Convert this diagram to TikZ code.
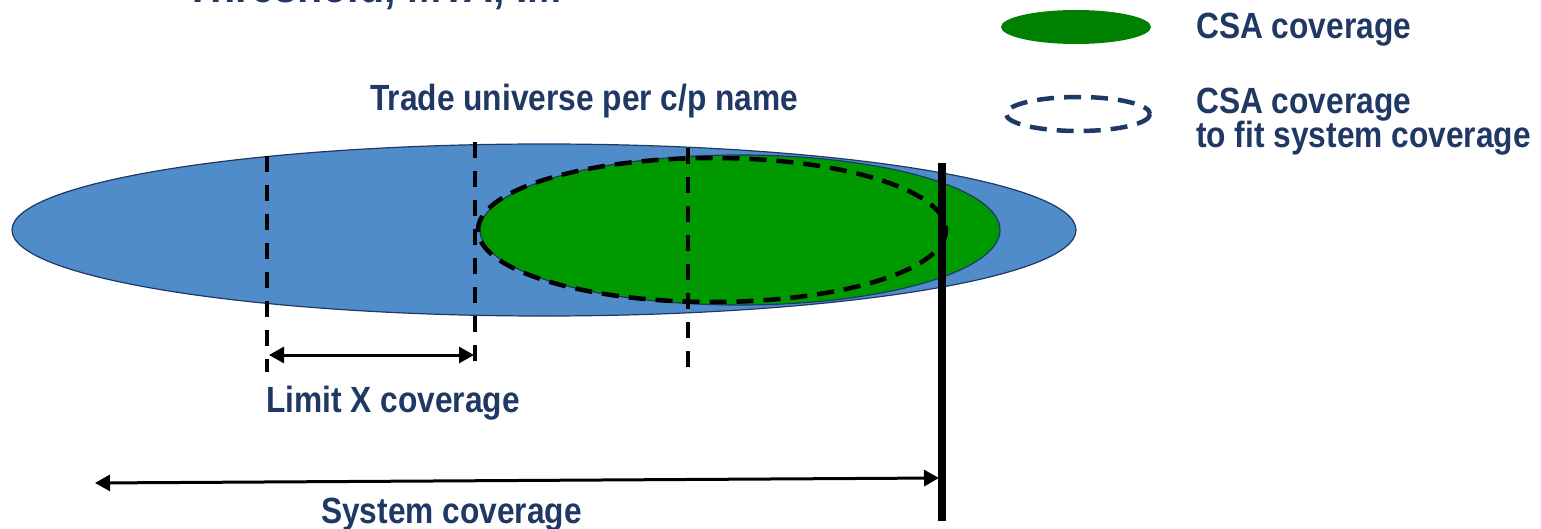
\documentclass[tikz,border=0pt]{standalone}
\usepackage{fontspec}
\setmainfont{Liberation Sans}
\usetikzlibrary{arrows.meta}
\definecolor{navy}{RGB}{31,56,100}
\definecolor{bluefill}{RGB}{80,140,201}
\definecolor{csagreen}{RGB}{0,153,0}
\definecolor{leggreen}{RGB}{0,128,0}
\newcommand{\stretchtxt}[1]{\scalebox{1}[1.15]{#1}}
\tikzset{
  lbl/.style={inner sep=0pt, anchor=base west, text=navy, font=\fontsize{31.7}{36}\selectfont\bfseries},
  title/.style={inner sep=0pt, anchor=base west, text=navy, font=\fontsize{41.2}{46}\selectfont\bfseries},
  vdash/.style={draw=black, line width=4pt, dash pattern=on 16pt off 13pt},
  dashell/.style={line width=4.5pt, dash pattern=on 17pt off 10pt},
  dimarrow/.style={draw=black, line width=3pt, {Triangle[length=15pt,width=16pt]}-{Triangle[length=15pt,width=16pt]}},
  shapeline/.style={draw=navy, line width=1.2pt}
}
\begin{document}
\begin{tikzpicture}[x=1pt,y=-1pt]
\useasboundingbox (0,0) rectangle (1541,529);
% clipped title
\node[title] (ttl) at (185,3) {\stretchtxt{Threshold, MTA, IM}};
% main ellipses
\fill[bluefill] (544,230) ellipse [x radius=532, y radius=86];
\draw[shapeline] (544,230) ellipse [x radius=532, y radius=86];
\fill[csagreen] (740,230) ellipse [x radius=260, y radius=75];
\draw[shapeline] (740,230) ellipse [x radius=260, y radius=75];
\draw[dashell, black] (712,230) ellipse [x radius=234, y radius=72];
% vertical dashed lines
\coordinate (d1t) at (267,156); \coordinate (d1b) at (267,372);
\coordinate (d2t) at (475,142); \coordinate (d2b) at (475,362);
\coordinate (d3t) at (688,148); \coordinate (d3b) at (688,368);
\draw[vdash] (d1t) -- (d1b);
\draw[vdash] (d2t) -- (d2b);
\draw[vdash] (d3t) -- (d3b);
% system boundary
\coordinate (st) at (942,163); \coordinate (sb) at (942,521);
\draw[black, line width=8pt] (st) -- (sb);
% arrows
\coordinate (la) at (269,355); \coordinate (lb) at (474,355);
\draw[dimarrow] (la) -- (lb);
\coordinate (sa) at (95,483); \coordinate (sbb) at (939,478);
\draw[dimarrow] (sa) -- (sbb);
% labels
\node[lbl] (trade) at (370,111) {\stretchtxt{Trade universe per c/p name}};
\node[lbl] (limit) at (266,412) {\stretchtxt{Limit X coverage}};
\node[lbl] (system) at (321,523) {\stretchtxt{System coverage}};
% legend
\fill[leggreen] (1076,27) ellipse [x radius=75, y radius=17];
\draw[dashell, navy] (1078,114) ellipse [x radius=72, y radius=17];
\node[lbl] (leg1) at (1196,39) {\stretchtxt{CSA coverage}};
\node[lbl] (leg2a) at (1196,114) {\stretchtxt{CSA coverage}};
\node[lbl] (leg2b) at (1196,148) {\stretchtxt{to fit system coverage}};
\end{tikzpicture}
\end{document}
